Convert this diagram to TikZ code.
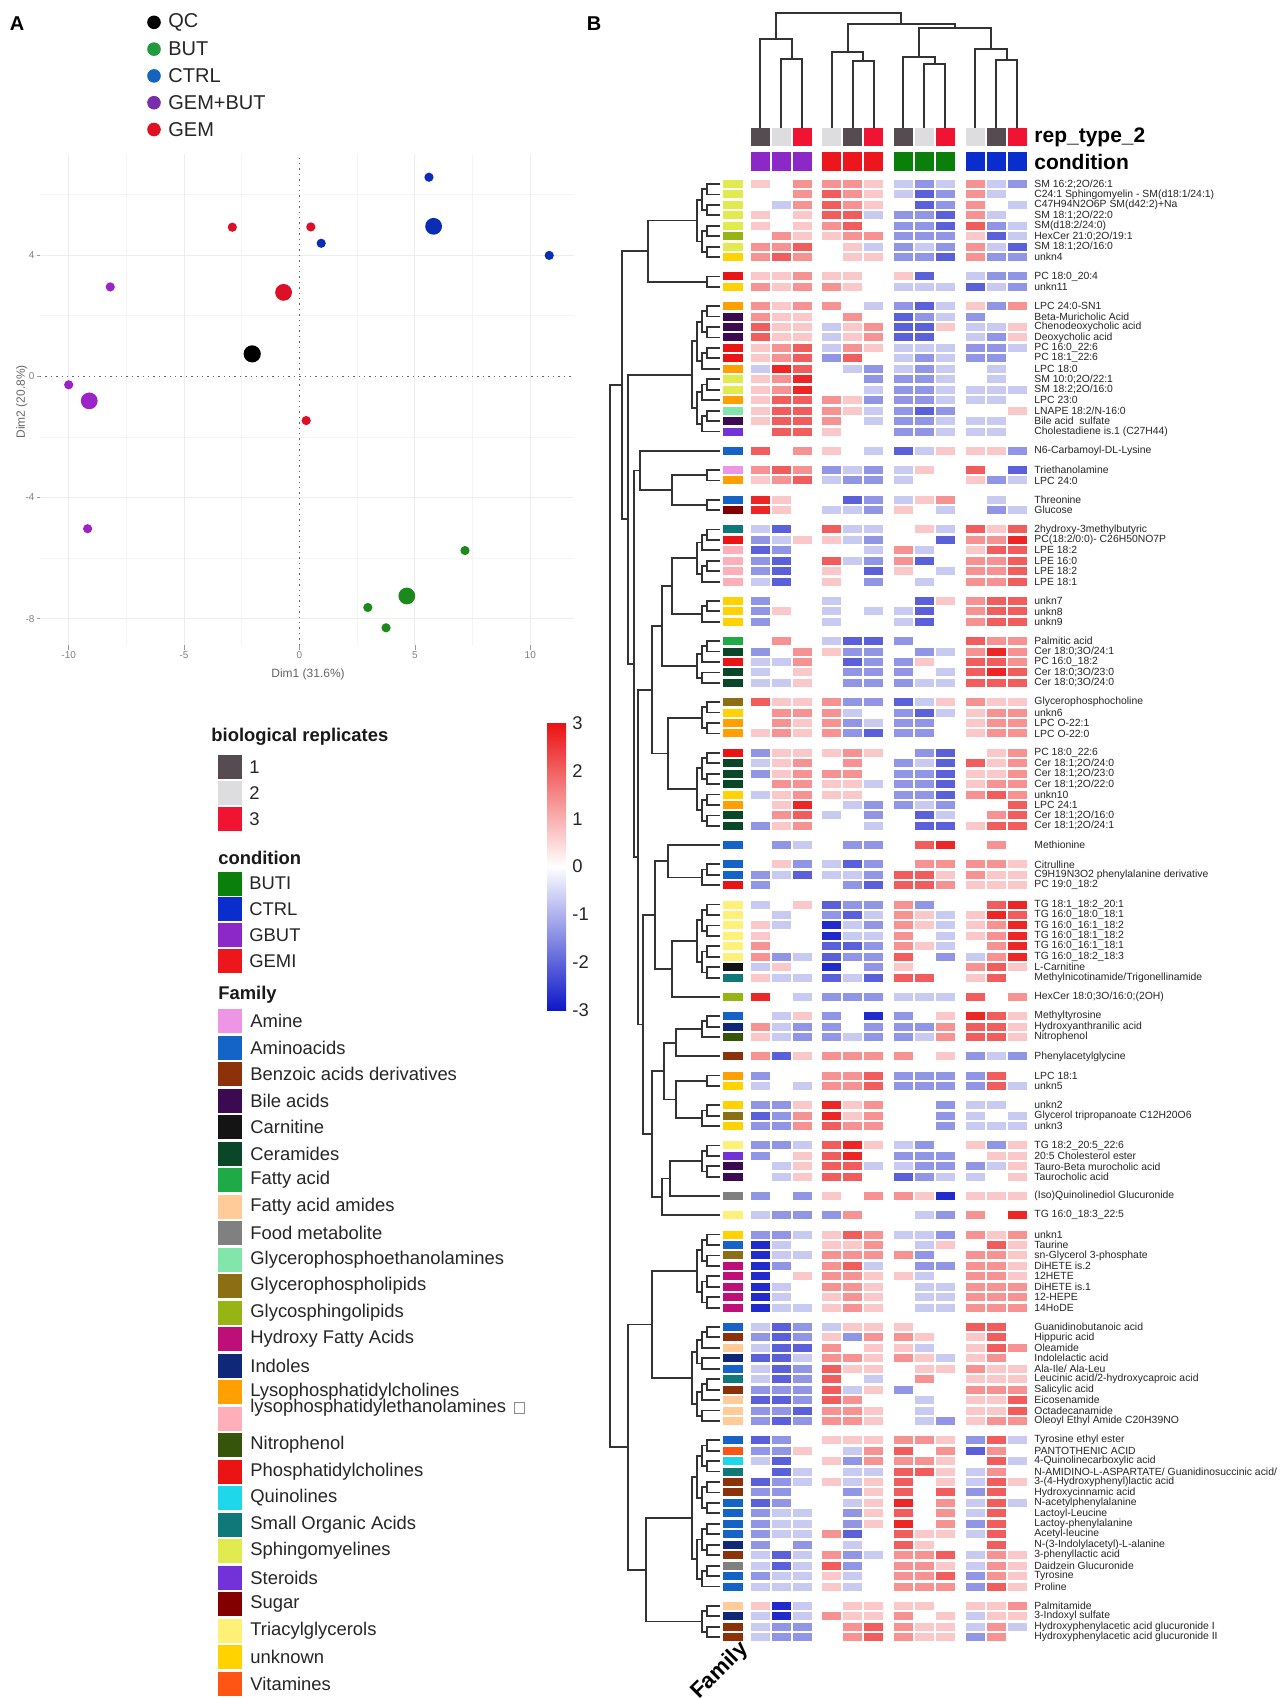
\documentclass[tikz,border=0pt]{standalone}
\usepackage{fontspec}
\setmainfont{Liberation Sans}
\usetikzlibrary{calc}
\usetikzlibrary{positioning}
% heatmap scale
\definecolor{hred}{RGB}{235,18,18}
\definecolor{hblue}{RGB}{14,24,200}
% annotation colours
\definecolor{rep1}{RGB}{87,75,82}
\definecolor{rep2}{RGB}{221,221,223}
\definecolor{rep3}{RGB}{240,20,50}
\definecolor{cBUT}{RGB}{10,128,10}
\definecolor{cCTRL}{RGB}{10,45,205}
\definecolor{cGB}{RGB}{140,40,200}
\definecolor{cGEM}{RGB}{236,22,28}
% pca colours
\definecolor{pCTRL}{RGB}{10,45,180}
\definecolor{pGEM}{RGB}{222,16,40}
\definecolor{pGB}{RGB}{155,35,200}
\definecolor{pBUT}{RGB}{27,138,27}
\definecolor{lBUT}{RGB}{30,155,60}
\definecolor{lCTRL}{RGB}{20,100,190}
\definecolor{lGB}{RGB}{120,45,170}
\definecolor{lGEM}{RGB}{224,16,32}
% family colours
\definecolor{fAm}{RGB}{238,150,230}
\definecolor{fAA}{RGB}{20,100,200}
\definecolor{fBz}{RGB}{140,50,10}
\definecolor{fBile}{RGB}{60,10,80}
\definecolor{fCarn}{RGB}{20,20,20}
\definecolor{fCer}{RGB}{10,70,40}
\definecolor{fFA}{RGB}{30,170,70}
\definecolor{fFAm}{RGB}{255,204,153}
\definecolor{fFood}{RGB}{128,128,128}
\definecolor{fGPE}{RGB}{130,230,170}
\definecolor{fGPL}{RGB}{140,110,20}
\definecolor{fGSL}{RGB}{150,180,20}
\definecolor{fHFA}{RGB}{190,15,120}
\definecolor{fInd}{RGB}{15,40,120}
\definecolor{fLPC}{RGB}{255,160,0}
\definecolor{fLPE}{RGB}{255,175,185}
\definecolor{fNit}{RGB}{55,85,10}
\definecolor{fPC}{RGB}{235,20,20}
\definecolor{fQui}{RGB}{30,215,235}
\definecolor{fSOA}{RGB}{15,120,120}
\definecolor{fSM}{RGB}{225,235,80}
\definecolor{fSte}{RGB}{115,50,215}
\definecolor{fSug}{RGB}{130,0,0}
\definecolor{fTG}{RGB}{255,240,120}
\definecolor{fUnk}{RGB}{255,210,0}
\definecolor{fVit}{RGB}{255,85,20}
\tikzset{
    dend/.style = {line width=0.9pt, draw=black!80},
    tdend/.style = {line width=1pt, draw=black!80},
    rowlab/.style = {anchor=west, inner sep=0pt, font=\fontsize{5.2}{6}\selectfont, text=black!85},
    leglab/.style = {anchor=west, inner sep=0pt, font=\fontsize{9.2}{11}\selectfont, text=black!85},
    legtitle/.style = {anchor=west, inner sep=0pt, font=\fontsize{9.2}{11}\selectfont\bfseries, text=black!90},
    annlab/.style = {anchor=west, inner sep=0pt, font=\fontsize{10.5}{12}\selectfont\bfseries},
    panel/.style = {inner sep=0pt, font=\fontsize{10}{12}\selectfont\bfseries},
    ticklab/.style = {inner sep=1pt, font=\fontsize{5}{6}\selectfont, text=black!50},
    axlab/.style = {inner sep=0pt, font=\fontsize{6}{7}\selectfont, text=black!60},
    gridmaj/.style = {draw=black!7, line width=0.5pt},
    gridmin/.style = {draw=black!4, line width=0.35pt},
    zeroline/.style = {draw=black!60, dotted, line width=0.7pt},
}
% heatmap rows
\newcount\hrowno
\newcount\hblockno
\newcommand\hgap{\global\advance\hblockno by 1\relax}
\newcommand\hrow[3]{%
  \global\advance\hrowno by 1\relax
  \pgfmathsetmacro\rowy{180+(\the\hrowno-1)*10.45+\the\hblockno*8.8}%
  \fill[#1] (723,\rowy) rectangle ++(20,8);
  \foreach \v [count=\c from 0] in {#2}{%
    \pgfmathsetmacro\cx{750.7+int(\c/3)*71.6+mod(\c,3)*21}%
    \pgfmathtruncatemacro\pct{abs(\v-4)*23}%
    \ifnum\v<4 \def\hc{hblue}\else\def\hc{hred}\fi
    \fill[\hc!\pct!white] (\cx,\rowy) rectangle ++(19,8);
  }%
  \node[rowlab] (lab\the\hrowno) at (1034,\rowy+4) {#3};
  \coordinate (r\the\hrowno) at (720,\rowy+4);
}
% dendrogram joins
\newcommand\rmerge[4]{%
  \coordinate (mtmp) at ($(#2)!0.5!(#3)$);
  \coordinate (#1) at (#4,0 |- mtmp);
  \draw[dend] (#2) -| (#1) |- (#3);
}
\newcommand\cmerge[4]{%
  \coordinate (mtmp) at ($(#2)!0.5!(#3)$);
  \coordinate (#1) at (mtmp |- 0,#4);
  \draw[tdend] (#2) |- (#1) -| (#3);
}
% balanced join of rows #2..#3, root at x=#4
\newcommand\btree[4]{%
  \ifnum#2=#3\relax
    \coordinate (#1) at (r#2);
  \else
    \begingroup
    \pgfmathtruncatemacro\bmid{(#2+#3)/2}%
    \pgfmathtruncatemacro\bnext{\bmid+1}%
    \pgfmathsetmacro\bx{#4+5}%
    \edef\bdo{\noexpand\btree{#1L}{#2}{\bmid}{\bx}\noexpand\btree{#1R}{\bnext}{#3}{\bx}}%
    \bdo
    \endgroup
    \rmerge{#1}{#1L}{#1R}{#4}%
  \fi
}
\newcommand\bblock[3]{%
  \pgfmathtruncatemacro\bn{#3-#2+1}%
  \ifnum\bn>8 \def\bh{4}\else\ifnum\bn>4 \def\bh{3}\else\ifnum\bn>2 \def\bh{2}\else\def\bh{1}\fi\fi\fi
  \pgfmathsetmacro\bx{712-5*\bh}%
  \btree{#1}{#2}{#3}{\bx}%
}

\begin{document}
\begin{tikzpicture}[x=0.5pt,y=-0.5pt]
\useasboundingbox[fill=white] (0,0) rectangle (1282,1698);

\node[panel] (pA) at (17,24) {A};
\node[panel] (pB) at (594,24) {B};

% PCA legend
\foreach \col/\lab [count=\i from 0] in {black/QC, lBUT/BUT, lCTRL/CTRL, lGB/GEM+BUT, lGEM/GEM}{
  \fill[\col] (154,22.3+\i*26.8) circle[radius=3.4pt];
  \node[anchor=west, inner sep=0pt, font=\fontsize{10}{12}\selectfont, text=black!85] (pl\i) at (168,22.3+\i*26.8) {\lab};
}

% PCA panel
\begin{scope}[shift={(299.5,376.3)}, x=11.54pt, y=15.15pt]
\foreach \gx in {-7.5,-2.5,2.5,7.5} \draw[gridmin] (\gx,-8.87) -- (\gx,7.34);
\foreach \gy in {-6,-2,2,6} \draw[gridmin] (-11.24,\gy) -- (11.89,\gy);
\foreach \gx in {-10,-5,5,10} \draw[gridmaj] (\gx,-8.87) -- (\gx,7.34);
\foreach \gy in {-8,-4,4} \draw[gridmaj] (-11.24,\gy) -- (11.89,\gy);
\draw[zeroline] (0,-8.87) -- (0,7.34);
\draw[zeroline] (-11.24,0) -- (11.89,0);
\foreach \gx in {-10,-5,0,5,10}{
  \draw[black!40, line width=0.3pt] (\gx,-8.87) -- (\gx,-9.02);
  \node[ticklab, anchor=north] at (\gx,-9.02) {\gx};
}
\foreach \gy in {-8,-4,0,4}{
  \draw[black!40, line width=0.3pt] (-11.24,\gy) -- (-11.38,\gy);
  \node[ticklab, anchor=east] at (-11.38,\gy) {\gy};
}
\node[axlab] (xlab) at (0.37,-9.85) {Dim1 (31.6\%)};
\node[axlab, rotate=90] (ylab) at (-12.03,-0.84) {Dim2 (20.8\%)};
\foreach \px/\py/\col/\rr in {
  5.61/6.57/pCTRL/2.3pt, 5.81/4.95/pCTRL/4.2pt, 0.94/4.39/pCTRL/2.3pt, 10.82/3.99/pCTRL/2.3pt,
  -2.91/4.92/pGEM/2.3pt, 0.49/4.93/pGEM/2.3pt, -0.69/2.77/pGEM/4.2pt, 0.29/-1.46/pGEM/2.3pt,
  -2.05/0.74/black/4.3pt,
  -8.2/2.95/pGB/2.3pt, -10.0/-0.28/pGB/2.3pt, -9.11/-0.81/pGB/4.2pt, -9.18/-5.03/pGB/2.3pt,
  7.17/-5.75/pBUT/2.3pt, 4.65/-7.25/pBUT/4.2pt, 2.96/-7.63/pBUT/2.3pt, 3.75/-8.3/pBUT/2.3pt}
  \fill[\col] (\px,\py) circle[radius=\rr];
\end{scope}

% legends
\node[legtitle] (reptitle) at (211,737) {biological replicates};
\foreach \col/\lab [count=\i from 0] in {rep1/1, rep2/2, rep3/3}{
  \fill[\col] (218,755+\i*26) rectangle ++(24,24);
  \node[leglab] (rl\i) at (249,767+\i*26) {\lab};
}
\node[legtitle] (condtitle) at (218,858) {condition};
\foreach \col/\lab [count=\i from 0] in {cBUT/BUTI, cCTRL/CTRL, cGB/GBUT, cGEM/GEMI}{
  \fill[\col] (218,871.5+\i*25.8) rectangle ++(24,24);
  \node[leglab] (cl\i) at (249,883.5+\i*25.8) {\lab};
}
\node[legtitle] (famtitle) at (218,995) {Family};
\foreach \col/\lab [count=\i from 0] in {fAm/Amine, fAA/Aminoacids, fBz/Benzoic acids derivatives, fBile/Bile acids, fCarn/Carnitine, fCer/Ceramides, fFA/Fatty acid, fFAm/Fatty acid amides, fFood/Food metabolite, fGPE/Glycerophosphoethanolamines, fGPL/Glycerophospholipids, fGSL/Glycosphingolipids, fHFA/Hydroxy Fatty Acids, fInd/Indoles, fLPC/Lysophosphatidylcholines, fLPE/{}, fNit/Nitrophenol, fPC/Phosphatidylcholines, fQui/Quinolines, fSOA/Small Organic Acids, fSM/Sphingomyelines, fSte/Steroids, fSug/Sugar, fTG/Triacylglycerols, fUnk/unknown, fVit/Vitamines}{
  \fill[\col] (218,1009+\i*26.5) rectangle ++(24,24);
  \node[leglab] (fl\i) at (250,1021+\i*26.5) {\lab};
}
\node[leglab] (flpe) at (250,1407.6) {lysophosphatidylethanolamines};
\draw[black!45, line width=0.3pt] ([xshift=4pt]flpe.east) ++(0,-2.6pt) rectangle ++(5pt,5.2pt);

% colour key
\shade[top color=hred, bottom color=white] (547,723) rectangle (566,866.5);
\shade[top color=white, bottom color=hblue] (547,866.5) rectangle (566,1010);
\foreach \v [count=\i from 0] in {3,2,1,0,-1,-2,-3}
  \node[leglab] (kl\i) at (572,723+\i*47.83) {\v};

% column annotations
\foreach \rc/\cc [count=\c from 0] in {rep1/cGB, rep2/cGB, rep3/cGB, rep2/cGEM, rep1/cGEM, rep3/cGEM, rep1/cBUT, rep2/cBUT, rep3/cBUT, rep2/cCTRL, rep1/cCTRL, rep3/cCTRL}{
  \pgfmathsetmacro\cx{750.7+int(\c/3)*71.6+mod(\c,3)*21}
  \fill[\rc] (\cx,127.7) rectangle ++(19,18);
  \fill[\cc] (\cx,152.3) rectangle ++(19,18.4);
  \coordinate (t\c) at (\cx+9.5,127.7);
}
\node[annlab] (reptype) at (1034,137) {rep\_type\_2};
\node[annlab] (condlab) at (1034,161.5) {condition};

% column dendrogram
\cmerge{m01}{t1}{t2}{59.3}
\cmerge{m0}{t0}{m01}{39.3}
\cmerge{m11}{t4}{t5}{61}
\cmerge{m1}{t3}{m11}{51.7}
\cmerge{m21}{t7}{t8}{64.3}
\cmerge{m2}{t6}{m21}{57.3}
\cmerge{m31}{t10}{t11}{60}
\cmerge{m3}{t9}{m31}{49.3}
\cmerge{m23}{m2}{m3}{28.3}
\cmerge{m123}{m1}{m23}{24}
\cmerge{mroot}{m0}{m123}{13.3}

% heatmap
\hrow{fSM}{5,4,6,6,6,5,3,2,3,6,3,2}{SM 16:2;2O/26:1}
\hrow{fSM}{4,4,6,7,6,5,3,1,2,6,3,4}{C24:1 Sphingomyelin - SM(d18:1/24:1)}
\hrow{fSM}{4,3,6,7,6,5,4,1,2,6,4,3}{C47H94N2O6P SM(d42:2)+Na}
\hrow{fSM}{5,4,5,7,7,3,2,2,1,6,3,4}{SM 18:1;2O/22:0}
\hrow{fSM}{5,4,5,6,7,4,2,2,1,7,2,3}{SM(d18:2/24:0)}
\hrow{fGSL}{4,6,5,5,6,6,2,2,2,5,1,3}{HexCer 21:0;2O/19:1}
\hrow{fSM}{6,6,7,4,5,3,2,3,2,6,3,1}{SM 18:1;2O/16:0}
\hrow{fUnk}{6,7,6,4,5,5,2,2,1,6,2,2}{unkn4}
\hgap
\hrow{fPC}{5,5,6,5,5,4,5,1,4,3,2,2}{PC 18:0\_20:4}
\hrow{fUnk}{6,5,6,6,5,4,3,3,3,1,3,2}{unkn11}
\hgap
\hrow{fLPC}{6,5,6,6,4,3,2,1,3,5,2,6}{LPC 24:0-SN1}
\hrow{fBile}{6,5,5,4,6,4,1,2,3,2,4,4}{Beta-Muricholic Acid}
\hrow{fBile}{7,5,5,3,5,6,1,1,5,3,3,5}{Chenodeoxycholic acid}
\hrow{fBile}{7,5,5,3,5,6,1,1,4,3,2,5}{Deoxycholic acid}
\hrow{fPC}{5,6,7,3,6,5,3,3,3,2,2,3}{PC 16:0\_22:6}
\hrow{fPC}{5,6,7,2,7,4,3,2,3,2,2,4}{PC 18:1\_22:6}
\hrow{fLPC}{3,8,7,4,3,2,3,2,3,4,3,4}{LPC 18:0}
\hrow{fSM}{5,6,8,4,4,2,2,2,3,4,3,4}{SM 10:0;2O/22:1}
\hrow{fSM}{5,6,8,4,4,3,2,2,3,3,3,3}{SM 18:2;2O/16:0}
\hrow{fLPC}{5,7,7,6,5,2,2,2,3,3,3,4}{LPC 23:0}
\hrow{fGPE}{5,7,7,6,5,3,2,1,2,4,4,5}{LNAPE 18:2/N-16:0}
\hrow{fBile}{5,7,7,6,4,3,2,2,3,3,3,4}{Bile acid\ \ sulfate}
\hrow{fSte}{4,7,7,5,4,4,2,2,3,3,3,4}{Cholestadiene is.1 (C27H44)}
\hgap
\hrow{fAA}{7,4,6,5,4,3,1,3,5,5,5,2}{N6-Carbamoyl-DL-Lysine}
\hgap
\hrow{fAm}{6,7,6,2,3,2,3,5,4,7,4,1}{Triethanolamine}
\hrow{fLPC}{5,6,7,3,2,2,3,4,4,5,2,3}{LPC 24:0}
\hgap
\hrow{fAA}{8,5,4,4,1,2,3,5,6,4,3,4}{Threonine}
\hrow{fSug}{8,5,4,3,3,2,5,4,3,4,2,3}{Glucose}
\hgap
\hrow{fSOA}{3,1,4,7,3,3,4,5,3,7,5,7}{2hydroxy-3methylbutyric}
\hrow{fPC}{2,3,5,5,3,2,4,4,1,6,6,8}{PC(18:2/0:0)- C26H50NO7P}
\hrow{fLPE}{1,2,4,4,4,3,6,3,4,5,7,7}{LPE 18:2}
\hrow{fLPE}{2,1,4,7,3,2,6,1,4,6,6,7}{LPE 16:0}
\hrow{fLPE}{2,1,4,5,4,1,5,4,3,6,6,7}{LPE 18:2}
\hrow{fLPE}{3,1,4,5,4,2,4,3,4,6,6,7}{LPE 18:1}
\hgap
\hrow{fUnk}{2,4,4,3,4,4,4,1,5,6,7,7}{unkn7}
\hrow{fUnk}{2,5,4,3,4,3,3,1,4,6,7,7}{unkn8}
\hrow{fUnk}{2,4,4,3,4,4,3,1,4,6,7,7}{unkn9}
\hgap
\hrow{fFA}{4,6,4,3,1,1,2,4,4,7,6,6}{Palmitic acid}
\hrow{fCer}{2,4,6,5,2,2,4,2,3,6,8,6}{Cer 18:0;3O/24:1}
\hrow{fPC}{3,3,6,4,1,2,2,5,4,7,7,6}{PC 16:0\_18:2}
\hrow{fCer}{3,4,5,4,2,2,2,4,3,7,8,7}{Cer 18:0;3O/23:0}
\hrow{fCer}{3,3,5,4,2,2,2,3,3,7,7,7}{Cer 18:0;3O/24:0}
\hgap
\hrow{fGPL}{7,5,5,6,2,2,1,3,5,6,5,5}{Glycerophosphocholine}
\hrow{fUnk}{4,6,6,6,3,4,2,1,3,5,6,6}{unkn6}
\hrow{fLPC}{4,6,5,6,2,3,2,2,4,5,6,6}{LPC O-22:1}
\hrow{fLPC}{5,6,5,6,2,1,2,2,4,5,6,6}{LPC O-22:0}
\hgap
\hrow{fPC}{2,5,5,5,6,5,4,2,1,4,5,6}{PC 18:0\_22:6}
\hrow{fCer}{3,5,6,4,6,4,2,3,1,7,5,6}{Cer 18:1;2O/24:0}
\hrow{fCer}{2,5,6,6,6,4,2,2,1,5,5,6}{Cer 18:1;2O/23:0}
\hrow{fCer}{4,6,6,5,5,3,2,2,1,5,6,6}{Cer 18:1;2O/22:0}
\hrow{fUnk}{3,5,6,5,5,4,2,2,1,6,7,6}{unkn10}
\hrow{fLPC}{4,5,8,4,3,2,2,3,2,4,4,7}{LPC 24:1}
\hrow{fCer}{4,6,7,3,4,2,4,1,3,4,6,7}{Cer 18:1;2O/16:0}
\hrow{fCer}{2,5,6,4,4,3,4,1,1,5,7,7}{Cer 18:1;2O/24:1}
\hgap
\hrow{fAA}{4,2,3,4,2,2,4,7,8,4,6,4}{Methionine}
\hgap
\hrow{fAA}{4,5,2,3,1,2,4,6,6,6,6,5}{Citrulline}
\hrow{fAA}{2,3,1,3,3,2,7,7,5,6,5,5}{C9H19N3O2 phenylalanine derivative}
\hrow{fPC}{2,4,4,4,2,1,7,7,6,5,5,5}{PC 19:0\_18:2}
\hgap
\hrow{fTG}{3,4,5,1,2,2,6,2,4,4,7,8}{TG 18:1\_18:2\_20:1}
\hrow{fTG}{4,3,4,2,1,3,6,5,3,5,8,7}{TG 16:0\_18:0\_18:1}
\hrow{fTG}{5,3,4,0,3,2,6,5,3,5,6,8}{TG 16:0\_16:1\_18:2}
\hrow{fTG}{5,4,4,0,3,3,6,4,3,5,6,8}{TG 16:0\_18:1\_18:2}
\hrow{fTG}{6,4,4,1,1,2,6,5,3,4,6,8}{TG 16:0\_16:1\_18:1}
\hrow{fTG}{6,2,3,1,2,2,7,4,2,3,6,8}{TG 16:0\_18:2\_18:3}
\hrow{fCarn}{3,5,4,0,4,2,5,4,4,6,7,5}{L-Carnitine}
\hrow{fSOA}{5,3,3,1,3,1,7,7,4,5,7,4}{Methylnicotinamide/Trigonellinamide}
\hgap
\hrow{fGSL}{8,4,3,2,2,2,3,3,3,7,4,6}{HexCer 18:0;3O/16:0;(2OH)}
\hgap
\hrow{fAA}{4,3,5,2,4,0,2,4,5,8,7,5}{Methyltyrosine}
\hrow{fInd}{6,3,2,2,4,2,2,2,6,7,7,5}{Hydroxyanthranilic acid}
\hrow{fNit}{5,3,2,2,3,2,2,3,6,7,7,5}{Nitrophenol}
\hgap
\hrow{fBz}{6,1,5,6,6,6,6,4,5,2,3,2}{Phenylacetylglycine}
\hgap
\hrow{fLPC}{2,4,4,6,6,7,2,2,2,2,7,4}{LPC 18:1}
\hrow{fUnk}{3,4,3,6,6,7,2,2,2,2,7,3}{unkn5}
\hgap
\hrow{fUnk}{2,2,5,8,5,6,4,4,2,3,3,4}{unkn2}
\hrow{fGPL}{1,2,6,8,5,6,4,4,2,3,4,3}{Glycerol tripropanoate C12H20O6}
\hrow{fUnk}{2,2,6,7,6,6,4,4,2,3,3,3}{unkn3}
\hgap
\hrow{fTG}{2,2,3,7,8,5,3,2,4,5,2,5}{TG 18:2\_20:5\_22:6}
\hrow{fSte}{2,4,5,7,8,4,2,2,2,4,5,5}{20:5 Cholesterol ester}
\hrow{fBile}{4,3,5,7,7,3,3,2,2,2,3,5}{Tauro-Beta murocholic acid}
\hrow{fBile}{4,3,5,7,7,4,1,2,3,3,4,5}{Taurocholic acid}
\hgap
\hrow{fFood}{2,4,2,5,4,6,6,5,0,5,5,5}{(Iso)Quinolinediol Glucuronide}
\hgap
\hrow{fTG}{3,2,2,2,6,4,4,3,2,6,4,8}{TG 16:0\_18:3\_22:5}
\hgap
\hrow{fUnk}{2,2,3,5,7,6,3,3,2,6,5,6}{unkn1}
\hrow{fAA}{0,3,4,5,5,6,4,3,5,4,7,5}{Taurine}
\hrow{fGPL}{0,3,3,6,6,6,6,2,4,6,6,5}{sn-Glycerol 3-phosphate}
\hrow{fHFA}{0,2,4,6,7,3,4,2,2,6,6,5}{DiHETE is.2}
\hrow{fHFA}{0,4,5,6,6,5,5,3,4,6,6,5}{12HETE}
\hrow{fHFA}{0,3,4,6,6,5,4,3,3,6,6,6}{DiHETE is.1}
\hrow{fHFA}{0,3,4,5,6,5,4,3,3,6,6,6}{12-HEPE}
\hrow{fHFA}{0,3,3,5,6,5,4,3,3,6,6,6}{14HoDE}
\hgap
\hrow{fAA}{3,1,2,3,5,5,5,4,4,7,7,4}{Guanidinobutanoic acid}
\hrow{fBz}{2,1,2,5,2,6,6,5,4,5,7,4}{Hippuric acid}
\hrow{fFAm}{3,1,1,6,4,5,5,3,4,5,7,6}{Oleamide}
\hrow{fInd}{1,1,3,6,6,5,6,5,3,5,6,4}{Indolelactic acid}
\hrow{fAA}{3,1,2,7,5,5,4,5,5,6,5,5}{Ala-Ile/ Ala-Leu}
\hrow{fSOA}{3,1,2,7,4,3,4,6,4,5,5,5}{Leucinic acid/2-hydroxycaproic acid}
\hrow{fBz}{2,2,2,7,3,5,2,4,4,6,6,6}{Salicylic acid}
\hrow{fFAm}{1,1,2,7,6,4,4,3,4,5,5,7}{Eicosenamide}
\hrow{fFAm}{2,2,1,6,6,5,4,3,4,5,5,7}{Octadecanamide}
\hrow{fFAm}{2,1,2,6,6,5,4,3,2,5,6,6}{Oleoyl Ethyl Amide C20H39NO}
\hgap
\hrow{fAA}{1,2,4,5,5,5,6,6,5,2,7,3}{Tyrosine ethyl ester}
\hrow{fVit}{2,2,5,4,3,6,7,4,6,1,6,4}{PANTOTHENIC ACID}
\hrow{fQui}{3,1,4,5,2,6,6,6,5,4,7,3}{4-Quinolinecarboxylic acid}
\hrow{fSOA}{4,1,3,4,3,3,7,7,5,3,6,4}{N-AMIDINO-L-ASPARTATE/ Guanidinosuccinic acid/}
\hrow{fBz}{1,2,3,5,3,5,7,4,5,3,7,5}{3-(4-Hydroxyphenyl)lactic acid}
\hrow{fBz}{2,2,4,4,2,5,7,4,7,2,7,4}{Hydroxycinnamic acid}
\hrow{fAA}{1,2,4,4,3,5,8,4,6,3,7,3}{N-acetylphenylalanine}
\hrow{fAA}{2,3,3,4,2,5,7,4,6,3,7,4}{Lactoyl-Leucine}
\hrow{fAA}{2,3,3,4,2,5,8,4,6,2,7,4}{Lactoy-phenylalanine}
\hrow{fAA}{2,3,3,6,1,4,7,5,5,3,7,4}{Acetyl-leucine}
\hrow{fInd}{2,4,2,4,3,4,7,5,4,4,7,4}{N-(3-Indolylacetyl)-L-alanine}
\hrow{fBz}{3,1,3,6,2,3,6,6,7,3,6,5}{3-phenyllactic acid}
\hrow{fFood}{3,1,3,7,2,4,6,6,5,3,6,5}{Daidzein Glucuronide}
\hrow{fAA}{2,3,3,5,3,4,6,6,7,2,6,5}{Tyrosine}
\hrow{fAA}{3,3,3,5,3,4,6,6,6,2,7,5}{Proline}
\hgap
\hrow{fFAm}{5,0,3,4,5,5,5,5,4,5,5,6}{Palmitamide}
\hrow{fInd}{3,0,3,6,5,5,6,4,5,3,5,5}{3-Indoxyl sulfate}
\hrow{fBz}{3,2,2,4,6,7,6,5,5,3,6,3}{Hydroxyphenylacetic acid glucuronide I}
\hrow{fBz}{3,2,2,4,6,7,6,5,5,2,6,4}{Hydroxyphenylacetic acid glucuronide II}

% row dendrogram
\bblock{b1}{1}{8}
\bblock{b2}{9}{10}
\bblock{b3}{11}{23}
\bblock{b4}{24}{24}
\bblock{b5}{25}{26}
\bblock{b6}{27}{28}
\bblock{b7}{29}{34}
\bblock{b8}{35}{37}
\bblock{b9}{38}{42}
\bblock{b10}{43}{46}
\bblock{b11}{47}{54}
\bblock{b12}{55}{55}
\bblock{b13}{56}{58}
\bblock{b14}{59}{66}
\bblock{b15}{67}{67}
\bblock{b16}{68}{70}
\bblock{b17}{71}{71}
\bblock{b18}{72}{73}
\bblock{b19}{74}{76}
\bblock{b20}{77}{80}
\bblock{b21}{81}{81}
\bblock{b22}{82}{82}
\bblock{b23}{83}{90}
\bblock{b24}{91}{100}
\bblock{b25}{101}{115}
\bblock{b26}{116}{119}
%
\rmerge{ka}{b1}{b2}{648}
\rmerge{ku1}{b5}{b6}{672}
\rmerge{ku}{b4}{ku1}{640}
\rmerge{kq1}{b7}{b8}{672}
\rmerge{kq2}{kq1}{b9}{662}
\rmerge{kq3}{b10}{b11}{668}
\rmerge{kv1}{kq2}{kq3}{652}
\rmerge{kp1}{b12}{b13}{668}
\rmerge{kp2}{b14}{b15}{672}
\rmerge{kp3}{kp1}{kp2}{655}
\rmerge{kp4}{b16}{b17}{676}
\rmerge{kp5}{b18}{b19}{676}
\rmerge{kp6}{kp4}{kp5}{664}
\rmerge{kp7}{b20}{b21}{670}
\rmerge{kp8}{kp7}{b22}{662}
\rmerge{kp9}{kp6}{kp8}{652}
\rmerge{kv2}{kp3}{kp9}{643}
\rmerge{kv}{kv1}{kv2}{638}
\rmerge{krest}{ku}{kv}{634}
\rmerge{kt2}{b3}{krest}{628}
\rmerge{ktop}{ka}{kt2}{622}
\rmerge{kl1}{b23}{b24}{652}
\rmerge{kl2}{b25}{b26}{646}
\rmerge{klow}{kl1}{kl2}{628}
\rmerge{kroot}{ktop}{klow}{610}

\node[anchor=east, rotate=45, inner sep=0pt, font=\fontsize{11}{13}\selectfont\bfseries] (famrot) at (745,1646) {Family};
\end{tikzpicture}
\end{document}
